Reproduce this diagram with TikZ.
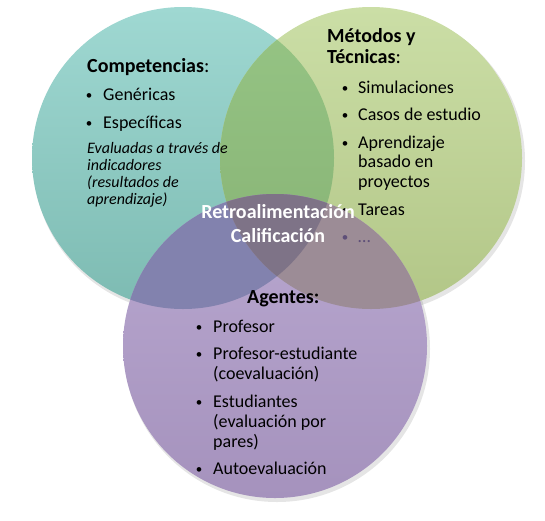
\documentclass[tikz,border=0pt]{standalone}
\usepackage{fontspec}
\setmainfont{Carlito}
\definecolor{tealT}{HTML}{9FD8D2}
\definecolor{tealB}{HTML}{7DBBB2}
\definecolor{greenT}{HTML}{CBDEA6}
\definecolor{greenB}{HTML}{B2C687}
\definecolor{tgT}{HTML}{96C585}
\definecolor{tgB}{HTML}{86B173}
\definecolor{purT}{HTML}{B9A8D0}
\definecolor{purB}{HTML}{A592BD}
\definecolor{tpC}{HTML}{8282AE}
\definecolor{gpC}{HTML}{9C8C96}
\definecolor{tgpC}{HTML}{7E7387}
\definecolor{fadeC}{HTML}{5E4F78}
\begin{document}
\begin{tikzpicture}[x=1pt,y=-1pt,
  head/.style={anchor=base west, inner sep=0pt, font=\fontsize{20}{21}\selectfont\bfseries},
  item/.style={anchor=base west, inner sep=0pt, font=\fontsize{18}{20}\selectfont},
  bul/.style={anchor=base, inner sep=0pt, font=\fontsize{13}{13}\selectfont},
  ital/.style={anchor=base west, inner sep=0pt, font=\fontsize{16}{17}\selectfont\itshape},
  wlab/.style={anchor=base, inner sep=0pt, text=white, font=\fontsize{20}{21}\selectfont\bfseries},
  shadowc/.style={fill=black, opacity=0.10}]
\useasboundingbox (0,0) rectangle (545,520);
\def\tealC{(183,158) circle[radius=151pt]}
\def\greenC{(371,158) circle[radius=151pt]}
\def\purC{(275,346) circle[radius=152pt]}
% shadows
\fill[shadowc] (185,161) circle[radius=152pt];
\fill[shadowc] (373,161) circle[radius=152pt];
\fill[shadowc] (277,349) circle[radius=153pt];
% teal
\shade[top color=tealT, bottom color=tealB] \tealC;
% green
\shade[top color=greenT, bottom color=greenB] \greenC;
\begin{scope}
  \clip \tealC;
  \shade[top color=tgT, bottom color=tgB] \greenC;
\end{scope}
% teal text
\node[head] (comp) at (87,72) {Competencias\textmd{:}};
\node[bul] (b1) at (89,99) {•};
\node[item] (gen) at (103,100) {Genéricas};
\node[bul] (b2) at (89,127) {•};
\node[item] (esp) at (103,128) {Específicas};
\node[ital] (ev1) at (87,153) {Evaluadas a través de};
\node[ital] (ev2) at (87,170) {indicadores};
\node[ital] (ev3) at (87,187) {(resultados de};
\node[ital] (ev4) at (87,204) {aprendizaje)};
% green text
\node[head] (met) at (327,42) {Métodos y};
\node[head] (tec) at (327,63) {Técnicas\textmd{:}};
\node[bul] (g1) at (345,92) {•};
\node[item] (sim) at (358,93) {Simulaciones};
\node[bul] (g2) at (345,119) {•};
\node[item] (cas) at (358,120) {Casos de estudio};
\node[bul] (g3) at (345,147) {•};
\node[item] (apr1) at (358,148) {Aprendizaje};
\node[item] (apr2) at (358,167) {basado en};
\node[item] (apr3) at (358,187) {proyectos};
\node[bul] (g4) at (345,214) {•};
\node[item] (tar) at (358,215) {Tareas};
% purple
\shade[top color=purT, bottom color=purB] \purC;
\begin{scope}
  \clip \purC;
  \fill[tpC] \tealC;
  \fill[gpC] \greenC;
  \clip \tealC;
  \fill[tgpC] \greenC;
\end{scope}
\node[bul, text=fadeC] (g5) at (345,241) {•};
\node[item, text=fadeC] (dots) at (358,242) {…};
% purple text
\node[head] (age) at (247,303) {Agentes:};
\node[bul] (p1) at (199,331) {•};
\node[item] (prof) at (213,332) {Profesor};
\node[bul] (p2) at (199,358) {•};
\node[item] (pe1) at (213,359) {Profesor-estudiante};
\node[item] (pe2) at (213,379) {(coevaluación)};
\node[bul] (p3) at (199,406) {•};
\node[item] (es1) at (213,407) {Estudiantes};
\node[item] (es2) at (213,427) {(evaluación por};
\node[item] (es3) at (213,447) {pares)};
\node[bul] (p4) at (199,473) {•};
\node[item] (auto) at (213,474) {Autoevaluación};
% center
\node[wlab] (retro) at (278,218) {Retroalimentación};
\node[wlab] (cali) at (278,242) {Calificación};
\end{tikzpicture}
\end{document}
